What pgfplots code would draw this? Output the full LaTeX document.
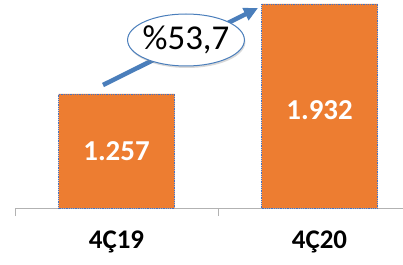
\documentclass[border=0pt]{standalone}
\usepackage{fontspec}
\setmainfont{Carlito}
\usepackage{pgfplots}
\pgfplotsset{compat=1.18}
\usetikzlibrary{shadows,arrows.meta,shapes.geometric}
\definecolor{barorange}{HTML}{ED7D31}
\definecolor{barblue}{HTML}{4472C4}
\definecolor{arrblue}{HTML}{4A7EBB}
\begin{document}
\begin{tikzpicture}
\path[use as bounding box] (-15bp,-57bp) rectangle (388bp,208bp);
\begin{axis}[
  scale only axis,
  width=388bp, height=208bp,
  xmin=-0.5, xmax=1.411,
  ymin=402, ymax=1962,
  hide y axis,
  axis x line*=bottom,
  x axis line style={draw=gray!60, line width=0.8bp},
  xtick={0,1},
  xticklabels={4Ç19,4Ç20},
  major tick length=0pt,
  extra x ticks={-0.5,0.5},
  extra x tick labels={},
  extra x tick style={major tick length=8bp, tick align=outside, tick style={draw=gray!60, line width=0.8bp}},
  xticklabel style={font=\bfseries\fontsize{27}{27}\selectfont, anchor=base, yshift=-40bp},
  ybar, bar width=116bp,
  clip=false,
]
\addplot[fill=barorange, draw=barblue, densely dotted, line width=0.8bp, bar shift=0pt]
  coordinates {(0,1257) (1,1932)};
\node[text=white, font=\bfseries\fontsize{29}{29}\selectfont] at (axis cs:0,829.5) {1.257};
\node[text=white, font=\bfseries\fontsize{29}{29}\selectfont] at (axis cs:1,1137) {1.932};
\end{axis}
\draw[arrblue, line width=4.5bp, -{Triangle[length=14bp,width=13bp]}] (88bp,123bp) -- (243bp,200bp);
\node[ellipse, draw=arrblue, line width=1bp, fill=white, minimum width=114bp, minimum height=52bp, inner sep=-2bp,
      drop shadow={shadow xshift=1bp, shadow yshift=-2bp, opacity=0.3},
      font=\fontsize{35}{35}\selectfont] at (171bp,168bp) {\%53,7};
\end{tikzpicture}
\end{document}
